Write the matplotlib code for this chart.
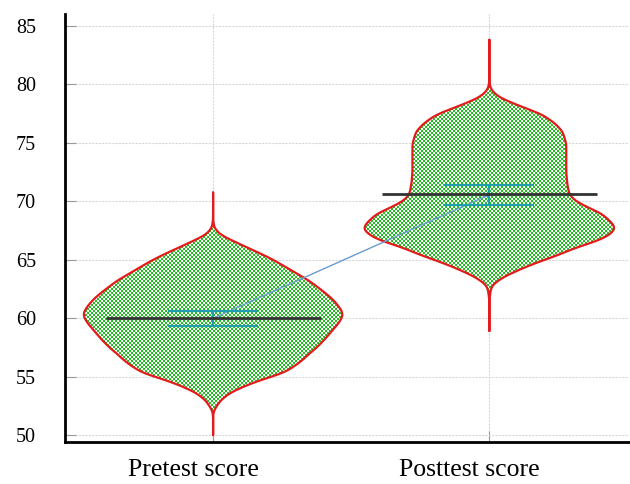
import numpy as np
import matplotlib
matplotlib.use("Agg")
import matplotlib.pyplot as plt
from matplotlib.patches import Polygon
import matplotlib.transforms as mtransforms

# ---- data ----
categories = ["Pretest score", "Posttest score"]

pre_levels = [50.0, 51.5, 52.0, 52.4, 53.0, 53.6, 54.0, 54.4, 54.9, 55.3, 55.8, 56.3,
              57.0, 57.5, 58.2, 58.9, 59.6, 60.2, 60.6, 61.2, 61.75, 62.5, 63.2,
              64.0, 64.9, 65.5, 66.0, 66.6, 67.0, 67.4, 67.8, 68.5, 70.75]
pre_density = [0, 0, 0.5, 3, 8, 17, 27, 38, 55, 70, 80, 88,
               97, 104, 112, 119, 126, 130, 129, 124, 118, 107, 96,
               80, 62, 48, 35, 20, 10, 4, 1, 0, 0]

post_levels = [58.9, 61.5, 62.5, 62.9, 63.5, 64.1, 64.6, 65.0, 65.5, 66.0, 66.5, 66.9,
               67.4, 67.75, 68.2, 68.9, 69.3, 69.7, 70.1, 70.6, 71.5, 72.5, 73.2,
               74.2, 74.9, 75.5, 76.0, 76.7, 77.4, 78.0, 78.5, 78.9, 79.3, 79.7,
               80.3, 83.8]
post_density = [0, 0, 1.5, 4, 14, 29, 43, 56, 72, 86, 104, 116,
                124, 126, 122, 113, 103, 93, 85, 80, 78, 77, 77,
                77, 77, 75, 73, 65, 53, 35, 20, 10, 4, 1,
                0, 0]

medians = [60.0, 70.6]
means = [59.98, 70.55]
ci_low = [59.36, 69.7]
ci_high = [60.6, 71.4]

yticks = [50, 55, 60, 65, 70, 75, 80, 85]

# ---- figure ----
fig = plt.figure(figsize=(6.3, 4.84), dpi=100)
ax = fig.add_axes([0.1032, 0.0868, 0.895, 0.884])
XL = (-0.536, 1.505)
YL = (49.4, 86.0)
ax.set_xlim(*XL)
ax.set_ylim(*YL)

ax.set_axisbelow(True)
ax.grid(True, color="#d8d8d8", linestyle=(0, (2, 1)), linewidth=0.8)

max_half = 0.47
red = "#e41a1c"
green = np.array([35, 190, 35]) / 255.0

# checkerboard texture in axes pixels
W, H = 564, 428
jj, ii = np.meshgrid(np.arange(W), np.arange(H))
mask = ((ii // 2 + jj // 2) % 2) == 0
tex = np.ones((H, W, 3))
tex[mask] = green

dmax = max(max(pre_density), max(post_density))


def smooth_outline(lev, dens):
    lev = np.asarray(lev, float)
    d = np.asarray(dens, float)
    yy = np.arange(lev[0], lev[-1] + 1e-9, 0.02)
    dd = np.interp(yy, lev, d)
    sig = 0.2 / 0.02
    k = np.arange(-int(4 * sig), int(4 * sig) + 1)
    ker = np.exp(-0.5 * (k / sig) ** 2)
    ker /= ker.sum()
    pad = len(k) // 2
    ddp = np.pad(dd, pad, mode="edge")
    ds = np.convolve(ddp, ker, mode="valid")
    return yy, ds


for pos, lev, dens in [(0, pre_levels, pre_density), (1, post_levels, post_density)]:
    yy, ds = smooth_outline(lev, dens)
    half = ds / dmax * max_half
    xs = np.concatenate([pos - half, (pos + half)[::-1]])
    ys = np.concatenate([yy, yy[::-1]])
    poly = Polygon(np.column_stack([xs, ys]), closed=True, facecolor="none",
                   edgecolor=red, linewidth=1.6, zorder=3, joinstyle="round")
    ax.add_patch(poly)
    im = ax.imshow(tex, extent=[*XL, *YL], aspect="auto",
                   interpolation="nearest", zorder=2, origin="upper")
    im.set_clip_path(poly)

ax.set_xlim(*XL)
ax.set_ylim(*YL)

# connecting line between means
ax.plot([0, 1], means, color="#6a9bd0", linewidth=1.0, zorder=4)

ci_col = "#1f9fae"
for pos in range(2):
    ax.hlines([ci_low[pos], ci_high[pos]], pos - 0.163, pos + 0.163, color=ci_col,
              linewidth=1.5, zorder=5)
    ax.vlines(pos, ci_low[pos], ci_high[pos], color=ci_col, linewidth=1.5, zorder=5)
    ax.hlines(medians[pos], pos - 0.388, pos + 0.391, color="#333333", linewidth=2.0, zorder=6)

ax.set_xticks([0, 1])
ax.set_xticklabels(categories, fontfamily="Liberation Serif", fontsize=18.5)
ax.set_yticks(yticks)
ax.set_yticklabels([str(t) for t in yticks], fontfamily="Liberation Serif", fontsize=14.5)

ax.tick_params(axis="y", direction="in", length=8, color="#999999", pad=21)
ax.tick_params(axis="x", direction="in", length=8, color="#999999", pad=12)

offset = mtransforms.ScaledTranslation(-20 / 100, 0, fig.dpi_scale_trans)
for lbl in ax.get_xticklabels():
    lbl.set_transform(lbl.get_transform() + offset)

for s in ["top", "right"]:
    ax.spines[s].set_visible(False)
for s in ["left", "bottom"]:
    ax.spines[s].set_linewidth(2.0)
    ax.spines[s].set_color("black")

fig.savefig("out.png", dpi=100)
